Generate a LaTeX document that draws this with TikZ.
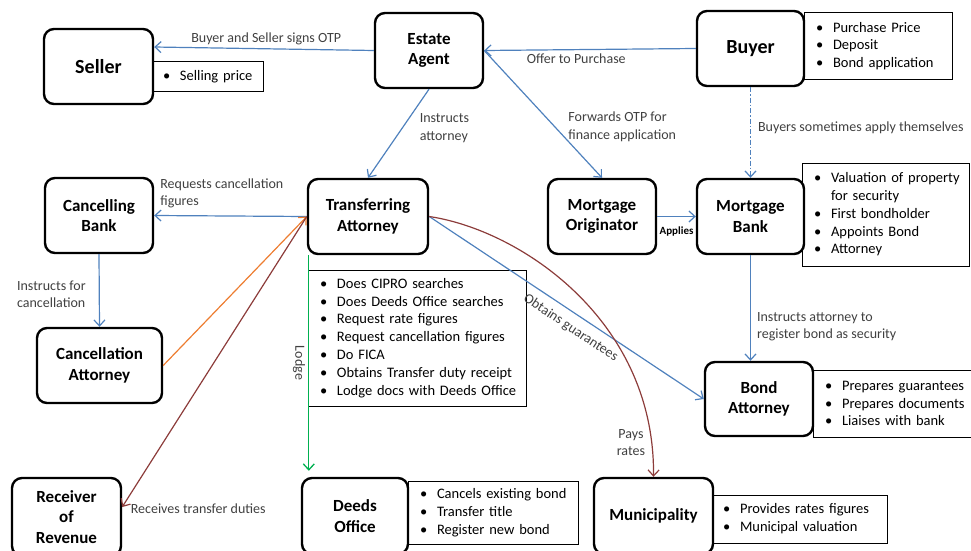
\documentclass[tikz,border=0pt]{standalone}
\usepackage{fontspec}
\setmainfont{Carlito}
\usetikzlibrary{arrows.meta}

\definecolor{flowblue}{RGB}{79,129,189}
\definecolor{cancelorange}{RGB}{237,125,49}
\definecolor{dutybrown}{RGB}{140,60,58}
\definecolor{lodgegreen}{RGB}{0,176,80}
\definecolor{labelgray}{RGB}{64,64,64}

% bullet item inside a duties box (kept on one line)
\newcommand{\li}[1]{\makebox[19pt][l]{\hspace{2pt}\textbullet}\mbox{#1}}

\tikzset{
  party/.style={draw, line width=2.4pt, rounded corners=10pt, fill=white,
    align=center, inner sep=2pt, font=\bfseries\fontsize{17}{20.5}\selectfont},
  bigparty/.style={party, font=\bfseries\fontsize{20}{24}\selectfont},
  duties/.style={draw, line width=1pt, fill=white, align=left,
    inner xsep=10pt, inner ysep=2pt, font=\fontsize{14.5}{17.8}\selectfont},
  tip/.style={-{Straight Barb[length=6pt,width=11pt]}},
  flow/.style={draw=flowblue, line width=1.2pt, tip},
  cancel/.style={draw=cancelorange, line width=1.2pt, tip},
  duty/.style={draw=dutybrown, line width=1.2pt, tip},
  lodgeflow/.style={draw=lodgegreen, line width=1.3pt, tip},
  lbl/.style={text=labelgray, font=\fontsize{14}{17.5}\selectfont,
    inner sep=1pt, align=left},
}

\begin{document}
\begin{tikzpicture}[x=1pt,y=-1pt]
\useasboundingbox (0,0) rectangle (971,551);

% ---- duty lists ----
\node[duties, text width=92pt, minimum height=29pt] (sellerlist) at (207,76.5)
  {\li{Selling price}};
\node[duties, text width=128pt, minimum height=66pt] (buyerlist) at (878,46)
  {\li{Purchase Price}\\\li{Deposit}\\\li{Bond application}};
\node[duties, text width=147pt, minimum height=103pt] (banklist) at (885.5,214.5)
  {\li{Valuation of property}\\\hspace*{19pt}for security\\\li{First bondholder}\\\li{Appoints Bond}\\\li{Attorney}};
\node[duties, text width=198pt, minimum height=136pt] (talist) at (417,338)
  {\li{Does CIPRO searches}\\\li{Does Deeds Office searches}\\\li{Request rate figures}\\\li{Request cancellation figures}\\\li{Do FICA}\\\li{Obtains Transfer duty receipt}\\\li{Lodge docs with Deeds Office}};
\node[duties, text width=145pt, minimum height=67pt] (bondlist) at (895.5,403.5)
  {\li{Prepares guarantees}\\\li{Prepares documents}\\\li{Liaises with bank}};
\node[duties, text width=150pt, minimum height=63pt] (deedslist) at (493,512.5)
  {\li{Cancels existing bond}\\\li{Transfer title}\\\li{Register new bond}};
\node[duties, text width=156pt, minimum height=48pt] (munilist) at (799,519)
  {\li{Provides rates figures}\\\li{Municipal valuation}};

% ---- parties ----
\node[bigparty, minimum width=109pt, minimum height=75pt] (seller) at (98.5,66.5) {Seller};
\node[party, minimum width=108pt, minimum height=75pt] (agent) at (429,50.5) {Estate\\Agent};
\node[bigparty, minimum width=107pt, minimum height=75pt] (buyer) at (750.5,48.5) {Buyer};
\node[party, minimum width=108pt, minimum height=75pt] (cbank) at (99,215.5) {Cancelling\\Bank};
\node[party, minimum width=120pt, minimum height=75pt] (ta) at (368,216.5) {Transferring\\Attorney};
\node[party, minimum width=108pt, minimum height=75pt] (mo) at (602,216.5) {Mortgage\\Originator};
\node[party, minimum width=107pt, minimum height=75pt] (mb) at (750.5,216.5) {Mortgage\\Bank};
\node[party, minimum width=125pt, minimum height=75pt] (catt) at (99.5,365.5) {Cancellation\\Attorney};
\node[party, minimum width=108pt, minimum height=74pt] (batt) at (759,399) {Bond\\Attorney};
\node[party, minimum width=109pt, minimum height=78pt] (ror) at (66.5,517) {Receiver\\of\\Revenue};
\node[party, minimum width=106pt, minimum height=76pt] (deeds) at (355,516) {Deeds\\Office};
\node[party, minimum width=119pt, minimum height=76pt] (muni) at (653.5,516) {Municipality};

% ---- flows ----
\draw[flow] (agent.west) -- node[lbl, pos=0.49, above=2pt] {Buyer and Seller signs OTP}
  ([yshift=19.5pt]seller.east);
\draw[flow] (buyer.west) -- node[lbl, pos=0.565, below=3pt] {Offer to Purchase} (agent.east);
\draw[flow] (agent.south) -- node[lbl, pos=0.44, anchor=west, xshift=16pt] {Instructs\\attorney} (ta.north);
\draw[flow] (agent.east) -- node[lbl, pos=0.6, anchor=west, xshift=12pt] {Forwards OTP for\\finance application} (mo.north);
\draw[flow, dash pattern=on 5pt off 2pt on 1.5pt off 2pt] (buyer.south) --
  node[lbl, pos=0.45, anchor=west, xshift=6pt] {Buyers sometimes apply themselves} (mb.north);
\draw[flow] (ta.west) -- node[lbl, pos=0.97, anchor=west, yshift=22pt] {Requests cancellation\\figures} (cbank.east);
\draw[flow] (cbank.south) -- node[lbl, pos=0.55, anchor=east, xshift=-12pt] {Instructs for\\cancellation} (catt.north);
\draw[flow] (mo.east) -- node[pos=0.5, below=9pt, inner sep=1pt,
  font=\bfseries\fontsize{11}{13}\selectfont] {Applies} (mb.west);
\draw[flow] (mb.south) -- node[lbl, pos=0.676, anchor=west, xshift=5pt] {Instructs attorney to\\register bond as security}
  (mb.south |- batt.north);
\draw[flow] (ta.east) -- node[lbl, pos=0.545, sloped, below=7pt] {Obtains guarantees} (batt.west);

\draw[cancel] (catt.east) -- (ta.west);
\draw[duty] (ta.west) -- ([yshift=10pt]ror.east)
  node[lbl, pos=1, anchor=west, xshift=7pt, yshift=-2pt] {Receives transfer duties};
\draw[duty] (ta.east) .. controls (520,230) and (655,320) .. (muni.north)
  node[lbl, pos=0.925, anchor=east, xshift=-5pt, align=center] {Pays\\rates};
\draw[lodgeflow] ([xshift=2pt]ta.south west) -- ([xshift=8pt,yshift=6pt]deeds.north west)
  node[lbl, midway, rotate=-90, anchor=north, inner sep=3pt] {Lodge};
\end{tikzpicture}
\end{document}
